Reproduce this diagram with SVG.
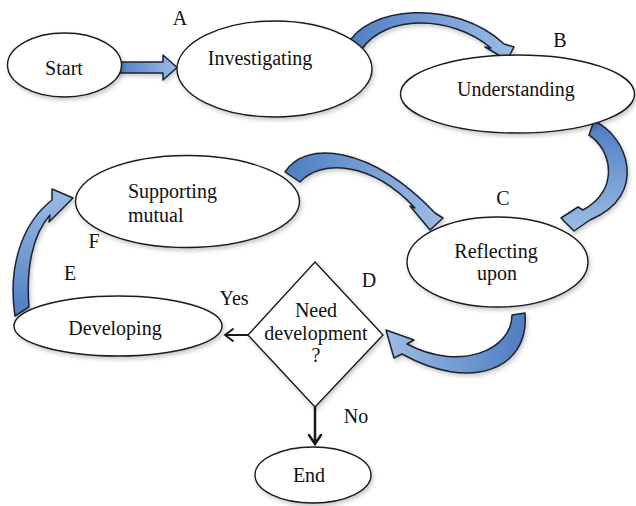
<svg xmlns="http://www.w3.org/2000/svg" width="636" height="506" viewBox="0 0 636 506">
<style>
.node { fill: #ffffff; stroke: #1a1a1a; stroke-width: 1.4; filter: url(#sh); }
.t { font-family: "Liberation Serif", "Times New Roman", serif; font-size: 20px; fill: #111; text-anchor: middle; }
.lbl { font-family: "Liberation Serif", "Times New Roman", serif; font-size: 20px; fill: #111; text-anchor: middle; }
.blk { stroke: #1c2230; stroke-width: 1.5; stroke-linejoin: round; filter: url(#sh); }
.ln { fill: none; stroke: #1a1a1a; stroke-width: 2; stroke-linecap: round; stroke-linejoin: miter; }
</style>
<defs>
<filter id="sh" x="-20%" y="-20%" width="140%" height="150%">
<feDropShadow dx="1.5" dy="2.5" stdDeviation="2" flood-color="#000" flood-opacity="0.22"/>
</filter>
<linearGradient id="gR" x1="0" y1="0" x2="1" y2="0">
<stop offset="0" stop-color="#4d7dc1"/><stop offset="1" stop-color="#9dbce4"/>
</linearGradient>
<linearGradient id="gL" x1="1" y1="0" x2="0" y2="0">
<stop offset="0" stop-color="#4d7dc1"/><stop offset="1" stop-color="#9dbce4"/>
</linearGradient>
<linearGradient id="gD" x1="0" y1="0" x2="0" y2="1">
<stop offset="0" stop-color="#4d7dc1"/><stop offset="1" stop-color="#9dbce4"/>
</linearGradient>
<linearGradient id="gU" x1="0" y1="1" x2="0" y2="0">
<stop offset="0" stop-color="#4d7dc1"/><stop offset="1" stop-color="#9dbce4"/>
</linearGradient>
</defs>
<rect width="636" height="506" fill="#ffffff"/>

<g id="connectors">
<path class="blk" fill="url(#gR)" d="M115,62 L163,62 L163,55 L177,67.5 L163,80 L163,73 L115,73 Z"/>
<path class="blk" fill="url(#gR)" d="M347,46 C365,6 455,-2 504,44 L514,47 L507,60 L485,47 L491,48 C450,14 385,15 362,49 Z"/>
<path class="blk" fill="url(#gD)" d="M594,121 C627,135 650,195 590,220 L574,231 L561,218 L578,207 L583,210 C620,190 612,150 589,135 Z"/>
<path class="blk" fill="url(#gR)" d="M285,172 C305,140 370,145 435,213 L443,218 L430,230 L410,206 L415,208 C370,160 320,160 300,182 Z"/>
<path class="blk" fill="url(#gL)" d="M525,313 C530,370 470,392 402,354 L394,358 L386,330 L414,340 L407,344 C460,372 512,350 512,315 Z"/>
<path class="blk" fill="url(#gU)" d="M15,316 C8,270 20,225 52,200 L52,189 L73,198 L49,222 L50,215 C32,235 26,270 29,307 Z"/>
<path class="ln" d="M248,335 L225,335 M233,329 L225,335 L233,341"/>
<path class="ln" style="stroke-width:2.5" d="M315,407 L315,443 M309,435 L315,444 L321,435"/>
</g>

<g id="start">
<ellipse class="node" cx="64.5" cy="65" rx="57" ry="32"/>
<text class="t" x="64" y="75">Start</text>
</g>
<g id="investigating">
<ellipse class="node" cx="274.5" cy="69" rx="97.5" ry="48"/>
<text class="t" x="260" y="65">Investigating</text>
</g>
<g id="understanding">
<ellipse class="node" cx="517.5" cy="94" rx="117" ry="39"/>
<text class="t" x="516" y="96">Understanding</text>
</g>
<g id="reflecting">
<ellipse class="node" cx="497.5" cy="262" rx="90.5" ry="45"/>
<text class="t" x="496" y="258">Reflecting</text>
<text class="t" x="497" y="280">upon</text>
</g>
<g id="supporting">
<ellipse class="node" cx="187.5" cy="201.5" rx="112" ry="46"/>
<text class="t" x="128" y="198" style="text-anchor:start">Supporting</text>
<text class="t" x="128" y="222" style="text-anchor:start">mutual</text>
</g>
<g id="developing">
<ellipse class="node" cx="118" cy="326" rx="104" ry="30"/>
<text class="t" x="115" y="335">Developing</text>
</g>
<g id="decision">
<polygon class="node" points="315,262 383,335 315,407 248,335"/>
<text class="t" x="316" y="317">Need</text>
<text class="t" x="316" y="340">development</text>
<text class="t" x="316" y="362">?</text>
</g>
<g id="end">
<ellipse class="node" cx="313" cy="475" rx="58" ry="28"/>
<text class="t" x="309" y="482">End</text>
</g>

<g id="labels">
<text class="lbl" x="180" y="25">A</text>
<text class="lbl" x="560" y="47">B</text>
<text class="lbl" x="503" y="205">C</text>
<text class="lbl" x="369" y="287">D</text>
<text class="lbl" x="70" y="280">E</text>
<text class="lbl" x="94" y="248">F</text>
<text class="lbl" x="234" y="305">Yes</text>
<text class="lbl" x="356" y="423">No</text>
</g>
</svg>
